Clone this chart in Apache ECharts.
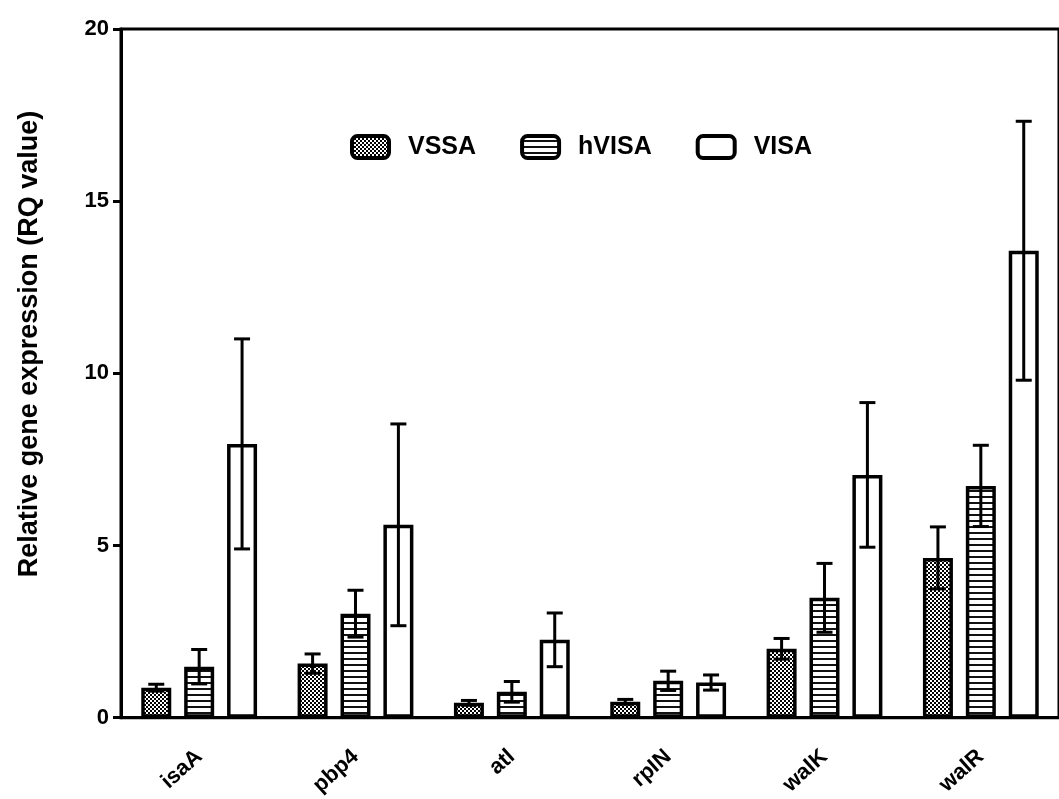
<!DOCTYPE html>
<html><head><meta charset="utf-8">
<script src="https://cdn.jsdelivr.net/npm/echarts@6/dist/echarts.min.js"></script>
<style>html,body{margin:0;padding:0;background:#fff}#c{width:1059px;height:799px}</style>
</head><body><div id="c"></div>
<script>
const categories = ['isaA', 'pbp4', 'atl', 'rpIN', 'walK', 'walR'];
const seriesNames = ['VSSA', 'hVISA', 'VISA'];
const vssaMean = [0.87, 1.57, 0.43, 0.46, 2.00, 4.64];
const vssaErr  = [0.10, 0.28, 0.07, 0.07, 0.30, 0.90];
const hvisaMean = [1.48, 3.02, 0.75, 1.07, 3.48, 6.73];
const hvisaErr  = [0.50, 0.68, 0.30, 0.28, 1.00, 1.18];
const visaMean = [7.95, 5.60, 2.26, 1.02, 7.05, 13.56];
const visaErr  = [3.05, 2.93, 0.78, 0.22, 2.10, 3.76];
const yTicks = [0, 5, 10, 15, 20];
const yTitle = 'Relative gene expression (RQ value)';

const means = [vssaMean, hvisaMean, visaMean];
const errs = [vssaErr, hvisaErr, visaErr];

function checker() {
  const c = document.createElement('canvas'); c.width = 4; c.height = 4;
  const g = c.getContext('2d');
  g.fillStyle = '#fff'; g.fillRect(0,0,4,4);
  g.fillStyle = '#000'; g.fillRect(0,0,2,2); g.fillRect(2,2,2,2);
  return c;
}
function stripes() {
  const c = document.createElement('canvas'); c.width = 4; c.height = 6;
  const g = c.getContext('2d');
  g.fillStyle = '#fff'; g.fillRect(0,0,4,6);
  g.fillStyle = '#111'; g.fillRect(0,4,4,2);
  return c;
}
const fills = [
  { image: checker(), repeat: 'repeat' },
  { image: stripes(), repeat: 'repeat' },
  '#ffffff'
];

const BAR_W = 30, BAR_GAP = 0.43;
const font = 'Liberation Sans, Arial, sans-serif';

const chart = echarts.init(document.getElementById('c'));
const series = [];
seriesNames.forEach((name, i) => {
  series.push({
    name, type: 'bar', data: means[i], barWidth: BAR_W, barGap: (BAR_GAP*100)+'%',
    itemStyle: { color: fills[i], borderColor: '#000', borderWidth: 3.5 },
    emphasis: { disabled: true }, z: 2
  });
});
seriesNames.forEach((name, i) => {
  series.push({
    type: 'custom', name: name + '_err', z: 5, silent: true,
    data: categories.map((c, k) => [k, means[i][k] - errs[i][k], means[i][k] + errs[i][k]]),
    renderItem: function (params, api) {
      const k = api.value(0);
      const lo = api.coord([k, api.value(1)]);
      const hi = api.coord([k, api.value(2)]);
      const off = (i - 1) * BAR_W * (1 + BAR_GAP);
      const x = lo[0] + off, cw = 8;
      const st = { stroke: '#000', lineWidth: 3 };
      return { type: 'group', children: [
        { type: 'line', shape: { x1: x, y1: lo[1], x2: x, y2: hi[1] }, style: st },
        { type: 'line', shape: { x1: x - cw, y1: hi[1], x2: x + cw, y2: hi[1] }, style: st },
        { type: 'line', shape: { x1: x - cw, y1: lo[1], x2: x + cw, y2: lo[1] }, style: st }
      ]};
    }
  });
});

chart.setOption({
  animation: false,
  backgroundColor: '#fff',
  grid: { left: 121, top: 29, width: 945, bottom: 81, show: true, borderColor: '#000', borderWidth: 3, backgroundColor: 'transparent' },
  legend: {
    data: seriesNames, left: 345, top: 129, itemWidth: 37, itemHeight: 22, itemGap: 44,
    textStyle: { fontFamily: font, fontWeight: 'bold', fontSize: 25, color: '#000', padding: [0, 0, 0, 14] },
    itemStyle: { borderWidth: 4 },
    selectedMode: false
  },
  graphic: [{
    type: 'text', rotation: Math.PI / 2, x: 30, y: 344,
    style: { text: yTitle, fontFamily: font, fontWeight: 'bold', fontSize: 27, fill: '#000',
      align: 'center', verticalAlign: 'middle' }
  }],
  xAxis: {
    type: 'category', data: categories,
    axisLine: { lineStyle: { color: '#000', width: 3 } },
    axisTick: { alignWithLabel: true, length: 10, lineStyle: { color: '#000', width: 3 } },
    axisLabel: { rotate: 42, margin: 36, fontFamily: font, fontWeight: 'bold', fontSize: 22, color: '#000' }
  },
  yAxis: {
    type: 'value', min: yTicks[0], max: yTicks[yTicks.length-1], interval: 5,
    axisLine: { show: true, lineStyle: { color: '#000', width: 3 } },
    axisTick: { show: true, length: 8, lineStyle: { color: '#000', width: 3 } },
    splitLine: { show: false },
    axisLabel: { margin: 12, fontFamily: font, fontWeight: 'bold', fontSize: 22, color: '#000' }
  },
  series
});
</script></body></html>
